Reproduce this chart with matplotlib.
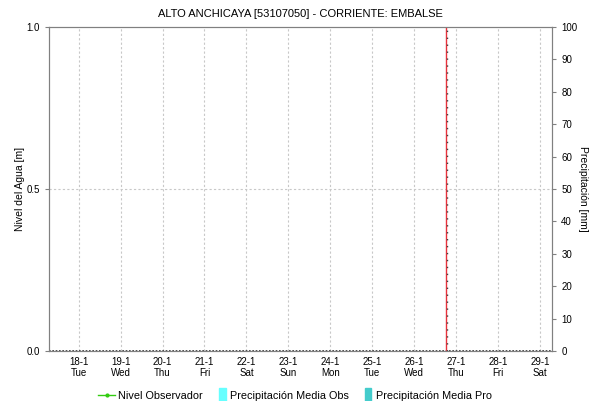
import matplotlib.pyplot as plt
import pandas as pd
from matplotlib.lines import Line2D
from matplotlib.patches import Patch, Rectangle
from matplotlib.legend_handler import HandlerPatch

plt.rcParams['font.family'] = ['Liberation Sans', 'DejaVu Sans']

titulo = 'ALTO ANCHICAYA [53107050] - CORRIENTE: EMBALSE'
x_ini = '2022-01-17 07:00'
x_fin = '2022-01-29 07:00'
ahora = '2022-01-26 18:00'
dias = pd.date_range('2022-01-18', '2022-01-29', freq='D')
dias_sem = ['Tue', 'Wed', 'Thu', 'Fri', 'Sat', 'Sun', 'Mon', 'Tue', 'Wed', 'Thu', 'Fri', 'Sat']

# series (sin datos en el periodo)
fechas_nivel = [pd.Timestamp(x_ini), pd.Timestamp(x_fin)]
nivel = [0.0, 0.0]

fig = plt.figure(figsize=(5.9, 4.01), dpi=100)
ax = fig.add_axes([0.083, 0.1247, 0.853, 0.808])
ax2 = ax.twinx()

ax.set_xlim(pd.Timestamp(x_ini), pd.Timestamp(x_fin))
ax.set_ylim(0, 1)
ax2.set_ylim(0, 100)
ax.set_yticks([0.0, 0.5, 1.0])
ax.set_yticklabels(['0.0', '0.5', '1.0'])
ax2.set_yticks(range(0, 101, 10))

ax.set_xticks(dias)
ax.set_xticklabels([f'{d.day}-{d.month}\n{w}' for d, w in zip(dias, dias_sem)])

ax.grid(True, axis='x', linestyle=(0, (2, 2)), color='#c8c8c8', linewidth=0.8)
ax.axhline(0.5, linestyle=(0, (2, 2)), color='#c8c8c8', linewidth=0.8)

# linea de datos en cero y marca de tiempo actual
ax.plot(fechas_nivel, nivel, color='#333333', linestyle=(0, (1, 1)), linewidth=1.2, clip_on=False, zorder=3)
ax.axvline(pd.Timestamp(ahora), color='#e8323c', linewidth=1.0, zorder=4)
ax.axvline(pd.Timestamp(ahora) + pd.Timedelta(hours=1), color='#444444',
           linestyle=(0, (1, 4)), linewidth=1.0, zorder=5)

for a in (ax, ax2):
    for s in a.spines.values():
        s.set_color('#808080')
    a.tick_params(colors='black', labelsize=7, length=3, width=0.8)
    a.tick_params(axis='both', color='#808080')
ax.tick_params(axis='x', length=0, pad=4)

ax.set_ylabel('Nivel del Agua [m]', fontsize=7.5)
ax.yaxis.set_label_coords(-0.047, 0.5)
ax2.set_ylabel('Precipitación [mm]', fontsize=7.5, rotation=270, va='center')
ax2.yaxis.set_label_coords(1.062, 0.5)
ax.set_title(titulo, fontsize=8, pad=7)


def caja(legend, orig_handle, xdescent, ydescent, width, height, fontsize):
    return Rectangle((width - 6, -1.5), 5, height + 3)


handles = [
    Line2D([0], [0], color='#33cc11', marker='.', markersize=4, linewidth=1),
    Patch(color='#66ffff'),
    Patch(color='#44cccc'),
]
labels = ['Nivel Observador', 'Precipitación Media Obs', 'Precipitación Media Pro']
fig.legend(handles, labels, loc='lower center', bbox_to_anchor=(0.5, -0.025), ncol=3,
           frameon=False, fontsize=7.8, handlelength=1.6, handleheight=0.9,
           columnspacing=0.6, handletextpad=0.3,
           handler_map={Patch: HandlerPatch(patch_func=caja)})

fig.savefig('out.png', dpi=100)
